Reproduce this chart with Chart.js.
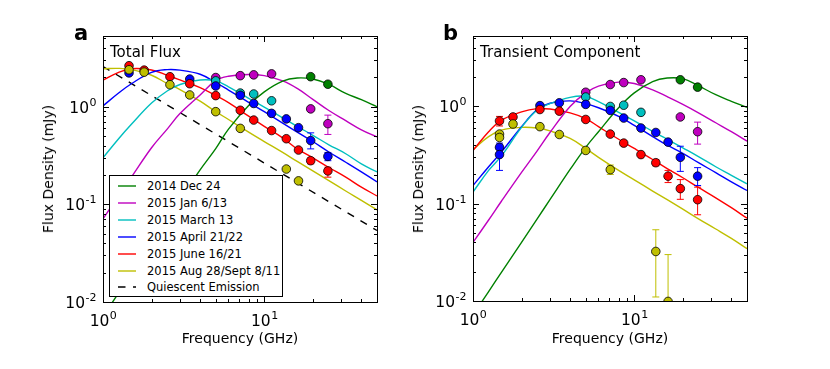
<!DOCTYPE html>
<html>
<head>
<meta charset="utf-8">
<script src="https://cdn.jsdelivr.net/npm/chart.js@4.4.0/dist/chart.umd.min.js"></script>
<style>
  body { margin: 0; background: #fff; font-family: "DejaVu Sans", sans-serif; }
  #wrap { position: relative; width: 830px; height: 369px; overflow: hidden; }
  canvas { position: absolute; top: 0; }
  .txt { position: absolute; white-space: nowrap; color: #000; line-height: 1; }
  .panel { font-size: 21px; font-weight: bold; }
  .inset { font-size: 15px; }
  .xtitle { font-size: 14px; transform: translate(-50%, -50%); }
  .ytitle { font-size: 14px; transform: translate(-50%, -50%) rotate(-90deg); }
  #legend { position: absolute; left: 109px; top: 175px; width: 172px; height: 120px;
            border: 1px solid #000; background: #fff; }
  #legend .row { position: absolute; left: 0; font-size: 11.5px; line-height: 1; }
  #legend svg { position: absolute; left: 7px; }
  #legend span { position: absolute; left: 37px; white-space: nowrap; }
</style>
</head>
<body>
<div id="wrap">
  <canvas id="chartA" width="415" height="369" style="left:0"></canvas>
  <canvas id="chartB" width="415" height="369" style="left:415px"></canvas>
  <div class="txt panel" style="left:74px;top:23px">a</div>
  <div class="txt panel" style="left:443px;top:23px">b</div>
  <div class="txt inset" style="left:110px;top:44.5px">Total Flux</div>
  <div class="txt inset" style="left:480px;top:44.5px">Transient Component</div>
  <div class="txt xtitle" style="left:240px;top:338px">Frequency (GHz)</div>
  <div class="txt xtitle" style="left:610px;top:338px">Frequency (GHz)</div>
  <div class="txt ytitle" style="left:48px;top:169px">Flux Density (mJy)</div>
  <div class="txt ytitle" style="left:418px;top:169px">Flux Density (mJy)</div>
  <div id="legend"></div>
</div>
<script>
const freqs = [1, 1.25, 1.5, 2, 2.5, 3, 4, 5, 6, 8, 10, 13, 16, 20, 25, 32, 40, 50];

const seriesLabels = ['2014 Dec 24', '2015 Jan 6/13', '2015 March 13', '2015 April 21/22', '2015 June 16/21', '2015 Aug 28/Sept 8/11'];
const seriesColors = ['#008000', '#bf00bf', '#00bfbf', '#0000ff', '#ff0000', '#bfbf00'];

const xTickLabels = [1, 10];
const yTickLabels = [0.01, 0.1, 1];

// panel a: fitted total flux (mJy) on freqs
const totalDec = [0.0071, 0.0124, 0.0196, 0.040, 0.070, 0.111, 0.225, 0.372, 0.59, 1.03, 1.42, 1.83, 1.97, 1.92, 1.70, 1.37, 1.18, 1.0];
const totalJan = [0.071, 0.123, 0.19, 0.38, 0.59, 0.85, 1.32, 1.85, 2.05, 2.14, 2.08, 1.84, 1.54, 1.19, 0.92, 0.72, 0.58, 0.49];
const totalMar = [0.30, 0.47, 0.66, 1.09, 1.45, 1.69, 1.88, 1.84, 1.60, 1.22, 0.99, 0.77, 0.63, 0.51, 0.41, 0.33, 0.26, 0.215];
const totalApr = [1.02, 1.38, 1.72, 2.25, 2.40, 2.37, 2.15, 1.77, 1.48, 1.11, 0.89, 0.68, 0.55, 0.44, 0.346, 0.27, 0.215, 0.17];
const totalJun = [1.87, 2.25, 2.45, 2.38, 2.10, 1.88, 1.57, 1.30, 1.10, 0.80, 0.63, 0.48, 0.37, 0.30, 0.24, 0.19, 0.15, 0.122];
const totalAug = [2.45, 2.47, 2.40, 2.10, 1.73, 1.50, 1.14, 0.89, 0.74, 0.55, 0.44, 0.34, 0.275, 0.22, 0.176, 0.137, 0.11, 0.088];

// quiescent emission (dashed)
const quietFreqs = [1, 50];
const quietFlux = [2.58, 0.054];

// panel a: measured total flux
const obsFreqDec = [19.4, 24.8];
const obsTotalDec = [2.03, 1.70];
const obsFreqJan = [5.0, 7.1, 8.6, 11.1, 19.4, 24.8];
const obsTotalJan = [1.99, 2.08, 2.12, 2.17, 0.95, 0.67];
const obsFreqMar = [5.0, 7.1, 8.6, 11.1];
const obsTotalMar = [1.84, 1.38, 1.35, 1.15];
const obsFreqApr = [1.45, 3.45, 5.0, 7.1, 8.6, 11.1, 13.7, 16.3, 19.4, 24.8];
const obsTotalApr = [2.22, 1.92, 1.63, 1.31, 1.08, 0.855, 0.75, 0.61, 0.45, 0.31];
const obsFreqJun = [1.45, 1.8, 2.6, 3.45, 5.0, 7.1, 8.6, 11.1, 13.7, 16.3, 19.4, 24.8];
const obsTotalJun = [2.63, 2.37, 2.03, 1.72, 1.30, 0.92, 0.73, 0.57, 0.47, 0.36, 0.28, 0.22];
const obsFreqAug = [1.45, 1.8, 2.6, 3.45, 5.0, 7.1, 13.7, 16.3];
const obsTotalAug = [2.39, 2.26, 1.68, 1.32, 0.89, 0.60, 0.23, 0.174];

// panel a error bars: [freq, low, high, series index]
const totalErrors = [
  [24.8, 0.52, 0.82, 1], [19.4, 0.92, 0.99, 1], [19.4, 0.37, 0.54, 3], [24.8, 0.28, 0.34, 3],
  [19.4, 0.26, 0.30, 4], [24.8, 0.19, 0.24, 4], [16.3, 0.165, 0.184, 5]
];

// panel b: fitted transient component on freqs
const transDec = [0.0072, 0.0125, 0.0197, 0.040, 0.070, 0.11, 0.225, 0.38, 0.55, 0.97, 1.38, 1.80, 1.96, 1.93, 1.63, 1.32, 1.13, 0.98];
const transJan = [0.040, 0.068, 0.106, 0.21, 0.35, 0.54, 1.0, 1.38, 1.62, 1.78, 1.72, 1.48, 1.26, 1.05, 0.86, 0.68, 0.55, 0.44];
const transMar = [0.132, 0.22, 0.31, 0.61, 0.92, 1.07, 1.24, 1.27, 1.12, 0.87, 0.71, 0.555, 0.46, 0.375, 0.305, 0.24, 0.196, 0.16];
const transApr = [0.154, 0.24, 0.34, 0.62, 0.93, 1.08, 1.14, 1.07, 0.97, 0.79, 0.64, 0.49, 0.40, 0.33, 0.264, 0.209, 0.168, 0.137];
const transJun = [0.353, 0.55, 0.72, 0.88, 0.95, 0.94, 0.86, 0.75, 0.62, 0.46, 0.37, 0.285, 0.23, 0.185, 0.147, 0.115, 0.091, 0.071];
const transAug = [0.36, 0.49, 0.57, 0.61, 0.60, 0.56, 0.47, 0.37, 0.30, 0.22, 0.176, 0.135, 0.11, 0.088, 0.07, 0.055, 0.044, 0.0345];

// panel b: measured transient flux
const tFreqDec = [19.3, 24.7];
const tObsDec = [1.88, 1.58];
const tFreqJan = [5.0, 7.1, 8.6, 11.0, 19.3, 24.7];
const tObsJan = [1.40, 1.68, 1.76, 1.88, 0.78, 0.55];
const tFreqMar = [5.0, 7.1, 8.6, 11.0];
const tObsMar = [1.25, 1.0, 1.03, 0.87];
const tFreqApr = [1.46, 1.46, 2.6, 3.43, 5.0, 7.1, 8.6, 11.0, 13.6, 16.2, 19.3, 24.7];
const tObsApr = [0.38, 0.32, 1.02, 1.09, 1.05, 0.91, 0.76, 0.60, 0.54, 0.43, 0.30, 0.192];
const tFreqJun = [1.46, 1.77, 2.6, 3.43, 5.0, 7.1, 8.6, 11.0, 13.6, 16.2, 19.3, 24.7];
const tObsJun = [0.71, 0.78, 0.93, 0.895, 0.735, 0.52, 0.42, 0.32, 0.264, 0.192, 0.143, 0.110];
const tFreqAug = [1.46, 1.46, 1.77, 2.6, 3.43, 5.0, 7.1, 13.6, 16.2];
const tObsAug = [0.52, 0.48, 0.66, 0.62, 0.515, 0.353, 0.224, 0.0323, 0.0099];

const transErrors = [
  [1.46, 0.22, 0.42, 3], [1.46, 0.63, 0.79, 4], [19.3, 0.215, 0.39, 3], [24.7, 0.154, 0.235, 3],
  [19.3, 0.111, 0.177, 4], [24.7, 0.077, 0.148, 4], [16.2, 0.165, 0.22, 4], [13.6, 0.245, 0.285, 4],
  [24.7, 0.41, 0.69, 1], [19.3, 0.74, 0.82, 1], [13.6, 0.011, 0.054, 5], [16.2, 0.005, 0.030, 5],
  [7.1, 0.20, 0.25, 5]
];

const pairs = (xs, ys) => xs.map((x, i) => ({ x: x, y: ys[i] }));

// log ticks 1..9 x 10^n within [min, max]
function logTicks(min, max) {
  const out = [];
  for (let e = Math.floor(Math.log10(min)); e <= Math.ceil(Math.log10(max)); e++) {
    for (let m = 1; m <= 9; m++) {
      const v = m * Math.pow(10, e);
      if (v >= min * 0.999 && v <= max * 1.001) out.push({ v: v, major: m === 1 });
    }
  }
  return out;
}

// frame, inward ticks on all sides and 10^n labels
const frameTicks = {
  id: 'frameTicks',
  afterDatasetsDraw(chart) {
    const { ctx, chartArea: a, scales: { x, y } } = chart;
    ctx.save();
    ctx.strokeStyle = '#000';
    ctx.lineWidth = 1;
    ctx.beginPath();
    logTicks(x.min, x.max).forEach(t => {
      const px = Math.round(x.getPixelForValue(t.v)) + 0.5;
      const len = t.major ? 6 : 3;
      ctx.moveTo(px, a.bottom); ctx.lineTo(px, a.bottom - len);
      ctx.moveTo(px, a.top); ctx.lineTo(px, a.top + len);
    });
    logTicks(y.min, y.max).forEach(t => {
      const py = Math.round(y.getPixelForValue(t.v)) + 0.5;
      const len = t.major ? 6 : 3;
      ctx.moveTo(a.left, py); ctx.lineTo(a.left + len, py);
      ctx.moveTo(a.right, py); ctx.lineTo(a.right - len, py);
    });
    ctx.stroke();
    ctx.strokeRect(Math.round(a.left) + 0.5, Math.round(a.top) + 0.5,
                   Math.round(a.right - a.left), Math.round(a.bottom - a.top));

    ctx.fillStyle = '#000';
    ctx.textBaseline = 'alphabetic';
    const base = '15.5px "DejaVu Sans"', sup = '11px "DejaVu Sans"';
    const sups = v => String(Math.round(Math.log10(v)));
    xTickLabels.forEach(v => {
      const px = x.getPixelForValue(v);
      ctx.font = base; const w1 = ctx.measureText('10').width;
      ctx.font = sup; const w2 = ctx.measureText(sups(v)).width;
      const x0 = px - (w1 + w2) / 2;
      ctx.font = base; ctx.fillText('10', x0, a.bottom + 23.5);
      ctx.font = sup; ctx.fillText(sups(v), x0 + w1 + 0.5, a.bottom + 16.5);
    });
    yTickLabels.forEach(v => {
      const py = y.getPixelForValue(v);
      ctx.font = base; const w1 = ctx.measureText('10').width;
      ctx.font = sup; const w2 = ctx.measureText(sups(v)).width;
      const x0 = a.left - 7 - w1 - w2;
      ctx.font = base; ctx.fillText('10', x0, py + 5.8);
      ctx.font = sup; ctx.fillText(sups(v), x0 + w1 + 0.5, py - 1.2);
    });
    ctx.restore();
  }
};

function makePanel(id, fits, obsX, obsY, errors, quiet, box) {
  const datasets = [];
  fits.forEach((f, i) => datasets.push({
    data: pairs(freqs, f), borderColor: seriesColors[i], borderWidth: 1.4,
    pointRadius: 0, tension: 0.4, order: 40, clip: 0
  }));
  if (quiet) datasets.push({
    data: pairs(quietFreqs, quietFlux), borderColor: '#000', borderWidth: 1.4,
    borderDash: [7.5, 7.5], pointRadius: 0, order: 40, clip: 0
  });
  errors.forEach(e => datasets.push({
    data: [{ x: e[0], y: e[1] }, { x: e[0], y: e[2] }],
    borderColor: seriesColors[e[3]], borderWidth: 1, pointStyle: 'line',
    pointRadius: 3.5, pointBorderColor: seriesColors[e[3]], pointBorderWidth: 1,
    order: 30, clip: 0
  }));
  obsX.forEach((xs, i) => datasets.push({
    data: pairs(xs, obsY[i]), showLine: false, pointRadius: 4.3,
    pointBackgroundColor: seriesColors[i], pointBorderColor: '#000',
    pointBorderWidth: 0.8, order: 20 - i, clip: 0
  }));

  new Chart(document.getElementById(id), {
    type: 'line',
    data: { datasets: datasets },
    options: {
      responsive: false,
      animation: false,
      devicePixelRatio: 1,
      layout: { padding: { left: 0, top: box.top, right: box.right, bottom: 0 } },
      plugins: { legend: { display: false }, tooltip: { enabled: false } },
      scales: {
        x: {
          type: 'logarithmic', min: 1, max: 50,
          grid: { display: false }, border: { display: false }, ticks: { display: false },
          afterFit: s => { s.height = box.bottom; }
        },
        y: {
          type: 'logarithmic', min: 0.01, max: 5.3,
          grid: { display: false }, border: { display: false }, ticks: { display: false },
          afterFit: s => { s.width = box.left; }
        }
      }
    },
    plugins: [frameTicks]
  });
}

makePanel('chartA',
  [totalDec, totalJan, totalMar, totalApr, totalJun, totalAug],
  [obsFreqDec, obsFreqJan, obsFreqMar, obsFreqApr, obsFreqJun, obsFreqAug],
  [obsTotalDec, obsTotalJan, obsTotalMar, obsTotalApr, obsTotalJun, obsTotalAug],
  totalErrors, true, { left: 103, top: 36, right: 38, bottom: 67 });

makePanel('chartB',
  [transDec, transJan, transMar, transApr, transJun, transAug],
  [tFreqDec, tFreqJan, tFreqMar, tFreqApr, tFreqJun, tFreqAug],
  [tObsDec, tObsJan, tObsMar, tObsApr, tObsJun, tObsAug],
  transErrors, false, { left: 58, top: 36, right: 83, bottom: 68 });

// legend in panel a
const legend = document.getElementById('legend');
const rows = seriesLabels.map((l, i) => ({ label: l, color: seriesColors[i], dash: '' }))
  .concat([{ label: 'Quiescent Emission', color: '#000', dash: '7.5 7.5' }]);
rows.forEach((r, i) => {
  const cy = 10 + i * 16.9;
  const row = document.createElement('div');
  row.className = 'row';
  row.style.top = (cy - 6) + 'px';
  row.innerHTML = '<svg width="20" height="12" style="top:0"><line x1="1" y1="6" x2="19" y2="6" stroke="' +
    r.color + '" stroke-width="1.4" stroke-dasharray="' + r.dash + '"/></svg><span style="top:1px">' + r.label + '</span>';
  legend.appendChild(row);
});
</script>
</body>
</html>
